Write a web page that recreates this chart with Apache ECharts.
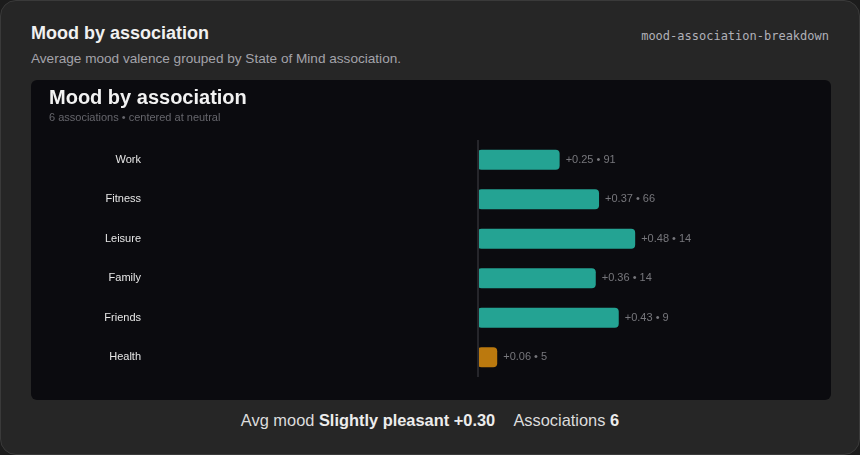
<!DOCTYPE html>
<html>
<head>
<meta charset="utf-8">
<script src="https://cdn.jsdelivr.net/npm/echarts@6/dist/echarts.min.js"></script>
<style>
  html, body { margin: 0; padding: 0; background: #1c1c1c; }
  .card {
    position: absolute; left: 0; top: 0; width: 858px; height: 453px;
    background: #262626; border: 1px solid #3a3a3a; border-radius: 16px;
    font-family: "Liberation Sans", Arial, sans-serif; color: #eee;
  }
  .title { position: absolute; left: 30px; top: 22px; font-size: 18px; font-weight: 700; color: #f0f0f0; }
  .sub { position: absolute; left: 30px; top: 50px; font-size: 13.6px; color: #a3a3aa; }
  .tag { position: absolute; right: 30px; top: 28px; font-family: "DejaVu Sans Mono", monospace; font-size: 12px; color: #b0b0b8; }
  #main { position: absolute; left: 30px; top: 79px; width: 800px; height: 320px; background: #0b0b0f; border-radius: 6px; overflow: hidden; }
  .foot { position: absolute; left: 0; width: 858px; top: 410px; text-align: center; font-size: 16.4px; color: #dcdcdc; }
  .foot b { color: #ececec; }
</style>
</head>
<body>
<div class="card">
  <div class="title">Mood by association</div>
  <div class="sub">Average mood valence grouped by State of Mind association.</div>
  <div class="tag">mood-association-breakdown</div>
  <div id="main"></div>
  <div class="foot">Avg mood <b>Slightly pleasant +0.30</b>&nbsp;&nbsp;&nbsp;&nbsp;Associations <b>6</b></div>
</div>
<script>
// 每個 association 的平均 valence 與筆數
var categories = ["Work", "Fitness", "Leisure", "Family", "Friends", "Health"];
var valence = [0.25, 0.37, 0.48, 0.36, 0.43, 0.06];
var counts = [91, 66, 14, 14, 9, 5];

var chartDom = document.getElementById("main");
var myChart = echarts.init(chartDom);
var option;

var barData = valence.map(function (v, i) {
  return {
    value: v,
    count: counts[i],
    itemStyle: { color: v < 0.15 ? "#bb790e" : "#24a393" }
  };
});

option = {
  backgroundColor: "transparent",
  animation: false,
  textStyle: { fontFamily: "Liberation Sans, Arial, sans-serif" },
  title: {
    text: "Mood by association",
    subtext: "6 associations • centered at neutral",
    left: 13,
    top: 3,
    itemGap: 4,
    textStyle: { color: "#f2f2f2", fontSize: 20, fontWeight: "bold", fontFamily: "Liberation Sans, Arial, sans-serif" },
    subtextStyle: { color: "#66666c", fontSize: 11, fontFamily: "Liberation Sans, Arial, sans-serif" }
  },
  grid: { left: 118, right: 25, top: 60, height: 237 },
  xAxis: {
    type: "value",
    min: -1,
    max: 1,
    show: false
  },
  yAxis: {
    type: "category",
    data: categories,
    inverse: true,
    axisLine: { show: false, onZero: false },
    axisTick: { show: false },
    axisLabel: { color: "#e6e6e6", fontSize: 11, margin: 8 }
  },
  series: [
    {
      type: "bar",
      data: barData,
      barWidth: 20,
      itemStyle: { borderRadius: 4 },
      label: {
        show: true,
        position: "right",
        distance: 6,
        color: "#77777c",
        fontSize: 11,
        formatter: function (p) {
          var v = p.value;
          return (v >= 0 ? "+" : "") + v.toFixed(2) + " • " + p.data.count;
        }
      },
      markLine: {
        silent: true,
        symbol: "none",
        label: { show: false },
        lineStyle: { color: "#26262b", width: 2, type: "solid" },
        data: [{ xAxis: 0 }]
      }
    }
  ]
};

option && myChart.setOption(option);
</script>
</body>
</html>
